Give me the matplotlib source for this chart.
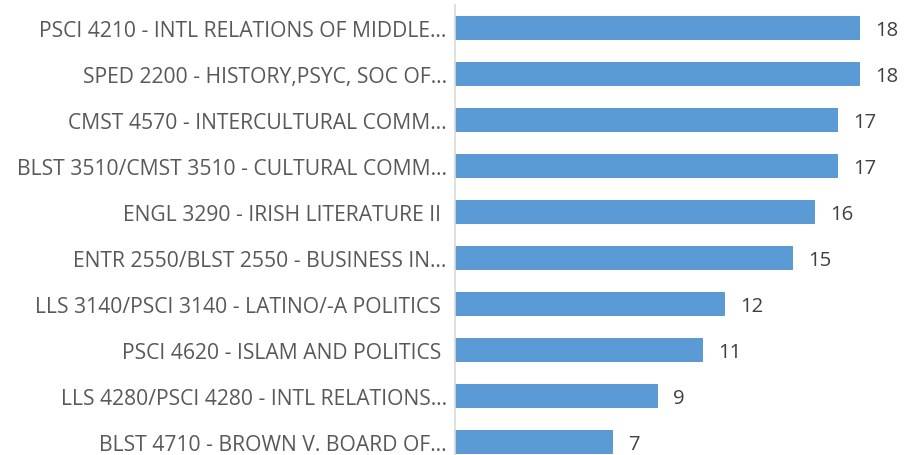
import matplotlib
matplotlib.use("Agg")
import matplotlib.pyplot as plt

courses = [
    "PSCI 4210 - INTL RELATIONS OF MIDDLE\u2026",
    "SPED 2200 - HISTORY,PSYC, SOC OF\u2026",
    "CMST 4570 - INTERCULTURAL COMM\u2026",
    "BLST 3510/CMST 3510 - CULTURAL COMM\u2026",
    "ENGL 3290 - IRISH LITERATURE II ",
    "ENTR 2550/BLST 2550 - BUSINESS IN\u2026",
    "LLS 3140/PSCI 3140 - LATINO/-A POLITICS ",
    "PSCI 4620 - ISLAM AND POLITICS ",
    "LLS 4280/PSCI 4280 - INTL RELATIONS\u2026",
    "BLST 4710 - BROWN V. BOARD OF\u2026",
]
enrolled = [18, 18, 17, 17, 16, 15, 12, 11, 9, 7]

BAR_COLOR = "#5B9BD5"
TEXT_COLOR = "#595959"

plt.rcParams["font.family"] = ["Open Sans", "DejaVu Sans"]

W, H = 923, 456
fig = plt.figure(figsize=(W / 100, H / 100), dpi=100)
# axes placed in pixel terms; bottom of the plot runs off the image
left, right = 455, 455 + 20 * 22.45
top, bottom = 6, 466
ax = fig.add_axes([left / W, (H - bottom) / H, (right - left) / W, (bottom - top) / H])

y = list(range(len(courses)))
ax.barh(y, enrolled, height=0.5, color=BAR_COLOR, edgecolor="#4E8FCB", linewidth=0.6)
ax.set_ylim(len(courses) - 0.5, -0.5)
ax.set_xlim(0, 20)

for yi, v in zip(y, enrolled):
    ax.text(v + 0.72, yi + 0.05, str(v), va="center", ha="left",
            fontsize=14.6, color="#404040")

ax.set_yticks(y)
ax.set_yticklabels(courses, fontsize=15.2, color=TEXT_COLOR)
ax.tick_params(axis="y", length=0, pad=6)
ax.set_xticks([])
for s in ["top", "right", "bottom"]:
    ax.spines[s].set_visible(False)
ax.spines["left"].set_color("#D9D9D9")
ax.spines["left"].set_linewidth(1.2)

fig.savefig("out.png", dpi=100)
